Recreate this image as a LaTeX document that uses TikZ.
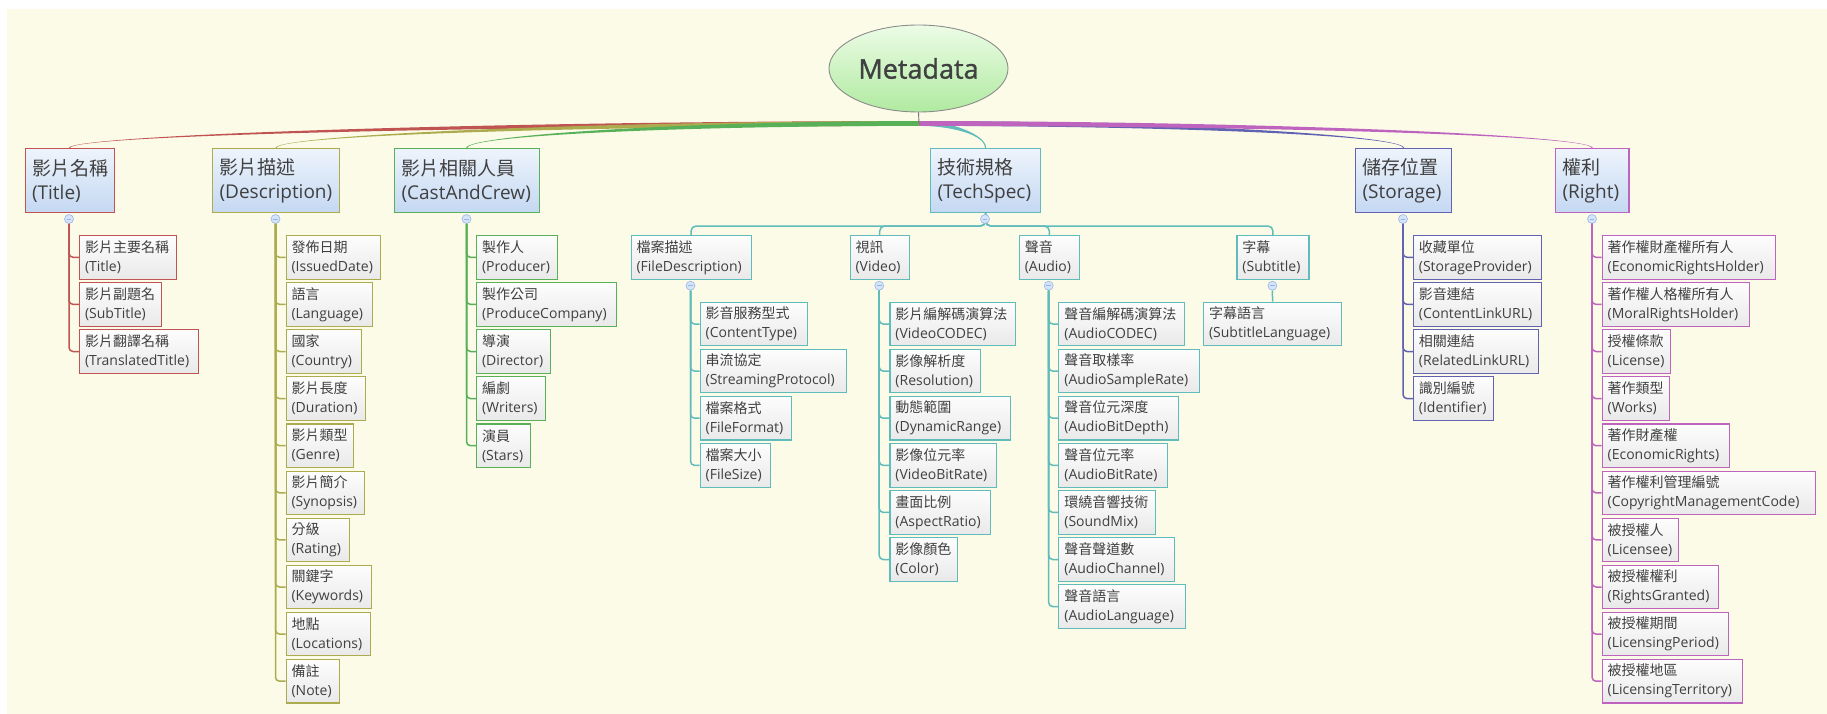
\documentclass[tikz,border=0pt]{standalone}
\usepackage{fontspec}
\setmainfont{Open Sans}
\newfontfamily\cjk{Noto Sans CJK TC}
\newfontfamily\metafont[FakeBold=1.2]{Open Sans}
\usetikzlibrary{calc,shapes.geometric}

\definecolor{bgc}{RGB}{252,251,232}
\definecolor{txt}{RGB}{64,64,64}
\definecolor{cR}{RGB}{192,84,82}
\definecolor{cO}{RGB}{172,172,78}
\definecolor{cG}{RGB}{88,176,88}
\definecolor{cT}{RGB}{96,188,186}
\definecolor{cB}{RGB}{98,98,178}
\definecolor{cM}{RGB}{190,100,190}
\definecolor{topA}{RGB}{238,244,252}
\definecolor{topB}{RGB}{196,216,242}
\definecolor{leafA}{RGB}{253,253,253}
\definecolor{leafB}{RGB}{233,233,233}
\definecolor{dotF}{RGB}{214,228,250}
\definecolor{dotD}{RGB}{150,182,232}
\definecolor{elA}{RGB}{236,252,230}
\definecolor{elB}{RGB}{176,234,160}

\tikzset{
  topbox/.style={draw=#1, line width=1.1pt, top color=topA, bottom color=topB,
    anchor=north west, minimum height=64pt, inner xsep=7pt, inner ysep=0pt,
    align=left, font=\fontsize{19}{24}\selectfont, text=txt},
  leafbox/.style={draw=#1, line width=1.1pt, top color=leafA, bottom color=leafB,
    anchor=north west, minimum height=43.5pt, inner xsep=5.5pt, inner ysep=0pt,
    align=left, font=\fontsize{14}{19}\selectfont, text=txt},
  colldot/.style={circle, draw=dotD, fill=dotF, line width=0.6pt, minimum size=9pt, inner sep=0pt,
    path picture={\draw[dotD, line width=0.8pt]
      ([xshift=-2.3pt]path picture bounding box.center) -- ([xshift=2.3pt]path picture bounding box.center);}},
  conn/.style={draw=#1, line width=1.5pt, rounded corners=4pt},
}

\newcommand\topnode[7]{\pgfmathsetlengthmacro\nodetw{#5pt-14pt}%
  \node[topbox=#1, text width=\nodetw] (#2) at (#3,#4) {{\cjk #6}\\#7};}
\newcommand\leafnode[7]{\pgfmathsetlengthmacro\nodetw{#5pt-11pt}%
  \node[leafbox=#1, text width=\nodetw] (#2) at (#3,#4) {{\cjk #6}\\#7};}
\newcommand\taper[3]{%
  \fill[#2] let \p0=(hub), \p1=(#1.north) in
    (\x0,\y0+2.4pt) .. controls ({(\x0+\x1)/2},\y0+2.4pt) and ({\x1-(#3pt)},\y1+13pt) .. ({\x1-(#3pt)},\y1)
    -- ({\x1+(#3pt)},\y1) .. controls ({\x1+(#3pt)},\y1+13pt) and ({(\x0+\x1)/2},\y0-2.4pt) .. (\x0,\y0-2.4pt) -- cycle;}

\begin{document}
\begin{tikzpicture}[x=1pt,y=-1pt]
\useasboundingbox (0,0) rectangle (1827,714);
\fill[white] (0,0) rectangle (1827,714);
\fill[bgc] (7,9) rectangle (1827,714);

% root
\node[ellipse, draw=black!45, line width=0.9pt, top color=elA, bottom color=elB,
  minimum width=179pt, minimum height=87pt, inner sep=0pt, text=txt,
  font=\metafont\fontsize{27}{30}\selectfont] (root) at (918.5,68.5) {Metadata};
\coordinate (hub) at (919,123.5);

% top-level boxes
\topnode{cR}{title}{24.5}{148}{89}{影片名稱}{(Title)}
\topnode{cO}{desc}{212}{148}{127}{影片描述}{(Description)}
\topnode{cG}{cast}{394}{148}{144.5}{影片相關人員}{(CastAndCrew)}
\topnode{cT}{tech}{930}{148}{110}{技術規格}{(TechSpec)}
\topnode{cB}{stor}{1355}{148}{96}{儲存位置}{(Storage)}
\topnode{cM}{right}{1555}{148}{73.4}{權利}{(Right)}

% main tapered connectors
\taper{tech}{cT}{-0.6}
\taper{stor}{cB}{-0.6}
\taper{right}{cM}{-0.6}
\taper{title}{cR}{0.6}
\taper{desc}{cO}{0.6}
\taper{cast}{cG}{0.6}
\draw[black!55, line width=0.9pt] (root.south) -- (hub);

% collapse dots of top-level boxes
\node[colldot] (tdot) at (69,219) {};
\node[colldot] (ddot) at (275.5,219) {};
\node[colldot] (cdot) at (466.5,219) {};
\node[colldot] (sdot) at (1403,219) {};
\node[colldot] (rdot) at (1592,219) {};

% Title leaves
\leafnode{cR}{t1}{79}{235}{96.5}{影片主要名稱}{(Title)}
\leafnode{cR}{t2}{79}{282.1}{81.5}{影片副題名}{(SubTitle)}
\leafnode{cR}{t3}{79}{329.2}{119}{影片翻譯名稱}{(TranslatedTitle)}
\foreach \n in {t1,t2,t3} \draw[conn=cR] (tdot.south) |- (\n.west);

% Description leaves
\leafnode{cO}{d1}{285.5}{235}{94.5}{發佈日期}{(IssuedDate)}
\leafnode{cO}{d2}{285.5}{282.1}{86}{語言}{(Language)}
\leafnode{cO}{d3}{285.5}{329.2}{75}{國家}{(Country)}
\leafnode{cO}{d4}{285.5}{376.3}{79.5}{影片長度}{(Duration)}
\leafnode{cO}{d5}{285.5}{423.4}{67.5}{影片類型}{(Genre)}
\leafnode{cO}{d6}{285.5}{470.5}{78.5}{影片簡介}{(Synopsis)}
\leafnode{cO}{d7}{285.5}{517.6}{63.5}{分級}{(Rating)}
\leafnode{cO}{d8}{285.5}{564.7}{85}{關鍵字}{(Keywords)}
\leafnode{cO}{d9}{285.5}{611.8}{84}{地點}{(Locations)}
\leafnode{cO}{d10}{285.5}{658.9}{53.5}{備註}{(Note)}
\foreach \n in {d1,d2,d3,d4,d5,d6,d7,d8,d9,d10} \draw[conn=cO] (ddot.south) |- (\n.west);

% Cast leaves
\leafnode{cG}{c1}{476}{235}{80.7}{製作人}{(Producer)}
\leafnode{cG}{c2}{476}{282.1}{140}{製作公司}{(ProduceCompany)}
\leafnode{cG}{c3}{476}{329.2}{74}{導演}{(Director)}
\leafnode{cG}{c4}{476}{376.3}{69}{編劇}{(Writers)}
\leafnode{cG}{c5}{476}{423.4}{54}{演員}{(Stars)}
\foreach \n in {c1,c2,c3,c4,c5} \draw[conn=cG] (cdot.south) |- (\n.west);

% TechSpec sub-branches
\leafnode{cT}{fd}{630.5}{235}{120}{檔案描述}{(FileDescription)}
\leafnode{cT}{vi}{849.5}{235}{59.3}{視訊}{(Video)}
\leafnode{cT}{au}{1018.7}{235}{60.1}{聲音}{(Audio)}
\leafnode{cT}{su}{1236.4}{235}{72}{字幕}{(Subtitle)}
\coordinate (bus) at (985,226);
\foreach \n in {fd,vi,au,su} \draw[conn=cT, rounded corners=5pt] (tech.south) |- (\n.north |- bus) -- (\n.north);
\node[colldot] (tsdot) at (985,219) {};
\node[colldot] (fddot) at (690.5,285.7) {};
\node[colldot] (vidot) at (879.2,285.7) {};
\node[colldot] (audot) at (1048.7,285.7) {};
\node[colldot] (sudot) at (1272.4,285.7) {};

% FileDescription leaves
\leafnode{cT}{f1}{699.6}{301.7}{107.4}{影音服務型式}{(ContentType)}
\leafnode{cT}{f2}{699.6}{348.8}{145.9}{串流協定}{(StreamingProtocol)}
\leafnode{cT}{f3}{699.6}{395.9}{91.4}{檔案格式}{(FileFormat)}
\leafnode{cT}{f4}{699.6}{443.0}{70}{檔案大小}{(FileSize)}
\foreach \n in {f1,f2,f3,f4} \draw[conn=cT] (fddot.south) |- (\n.west);

% Video leaves
\leafnode{cT}{v1}{889.4}{301.7}{125.4}{影片編解碼演算法}{(VideoCODEC)}
\leafnode{cT}{v2}{889.4}{348.8}{90.6}{影像解析度}{(Resolution)}
\leafnode{cT}{v3}{889.4}{395.9}{120.6}{動態範圍}{(DynamicRange)}
\leafnode{cT}{v4}{889.4}{443.0}{106.6}{影像位元率}{(VideoBitRate)}
\leafnode{cT}{v5}{889.4}{490.1}{100.6}{畫面比例}{(AspectRatio)}
\leafnode{cT}{v6}{889.4}{537.2}{67.2}{影像顏色}{(Color)}
\foreach \n in {v1,v2,v3,v4,v5,v6} \draw[conn=cT] (vidot.south) |- (\n.west);

% Audio leaves
\leafnode{cT}{a1}{1058.3}{301.7}{125.3}{聲音編解碼演算法}{(AudioCODEC)}
\leafnode{cT}{a2}{1058.3}{348.8}{140.3}{聲音取樣率}{(AudioSampleRate)}
\leafnode{cT}{a3}{1058.3}{395.9}{119.7}{聲音位元深度}{(AudioBitDepth)}
\leafnode{cT}{a4}{1058.3}{443.0}{108.3}{聲音位元率}{(AudioBitRate)}
\leafnode{cT}{a5}{1058.3}{490.1}{96.4}{環繞音響技術}{(SoundMix)}
\leafnode{cT}{a6}{1058.3}{537.2}{115.7}{聲音聲道數}{(AudioChannel)}
\leafnode{cT}{a7}{1058.3}{584.3}{126.5}{聲音語言}{(AudioLanguage)}
\foreach \n in {a1,a2,a3,a4,a5,a6,a7} \draw[conn=cT] (audot.south) |- (\n.west);

% Subtitle leaf
\leafnode{cT}{sl}{1203}{301.7}{138}{字幕語言}{(SubtitleLanguage)}
\draw[conn=cT] (sudot.south) -- (sl.north);

% Storage leaves
\leafnode{cB}{s1}{1412.8}{235}{128.2}{收藏單位}{(StorageProvider)}
\leafnode{cB}{s2}{1412.8}{282.1}{128.2}{影音連結}{(ContentLinkURL)}
\leafnode{cB}{s3}{1412.8}{329.2}{125.2}{相關連結}{(RelatedLinkURL)}
\leafnode{cB}{s4}{1412.8}{376.3}{80.2}{識別編號}{(Identifier)}
\foreach \n in {s1,s2,s3,s4} \draw[conn=cB] (sdot.south) |- (\n.west);

% Right leaves
\leafnode{cM}{r1}{1601.6}{235}{173.2}{著作權財產權所有人}{(EconomicRightsHolder)}
\leafnode{cM}{r2}{1601.6}{282.1}{147.4}{著作權人格權所有人}{(MoralRightsHolder)}
\leafnode{cM}{r3}{1601.6}{329.2}{68.4}{授權條款}{(License)}
\leafnode{cM}{r4}{1601.6}{376.3}{67.4}{著作類型}{(Works)}
\leafnode{cM}{r5}{1601.6}{423.4}{127.4}{著作財產權}{(EconomicRights)}
\leafnode{cM}{r6}{1601.6}{470.5}{213.4}{著作權利管理編號}{(CopyrightManagementCode)}
\leafnode{cM}{r7}{1601.6}{517.6}{76.4}{被授權人}{(Licensee)}
\leafnode{cM}{r8}{1601.6}{564.7}{116.4}{被授權權利}{(RightsGranted)}
\leafnode{cM}{r9}{1601.6}{611.8}{126}{被授權期間}{(LicensingPeriod)}
\leafnode{cM}{r10}{1601.6}{658.9}{140}{被授權地區}{(LicensingTerritory)}
\foreach \n in {r1,r2,r3,r4,r5,r6,r7,r8,r9,r10} \draw[conn=cM] (rdot.south) |- (\n.west);
\end{tikzpicture}
\end{document}
